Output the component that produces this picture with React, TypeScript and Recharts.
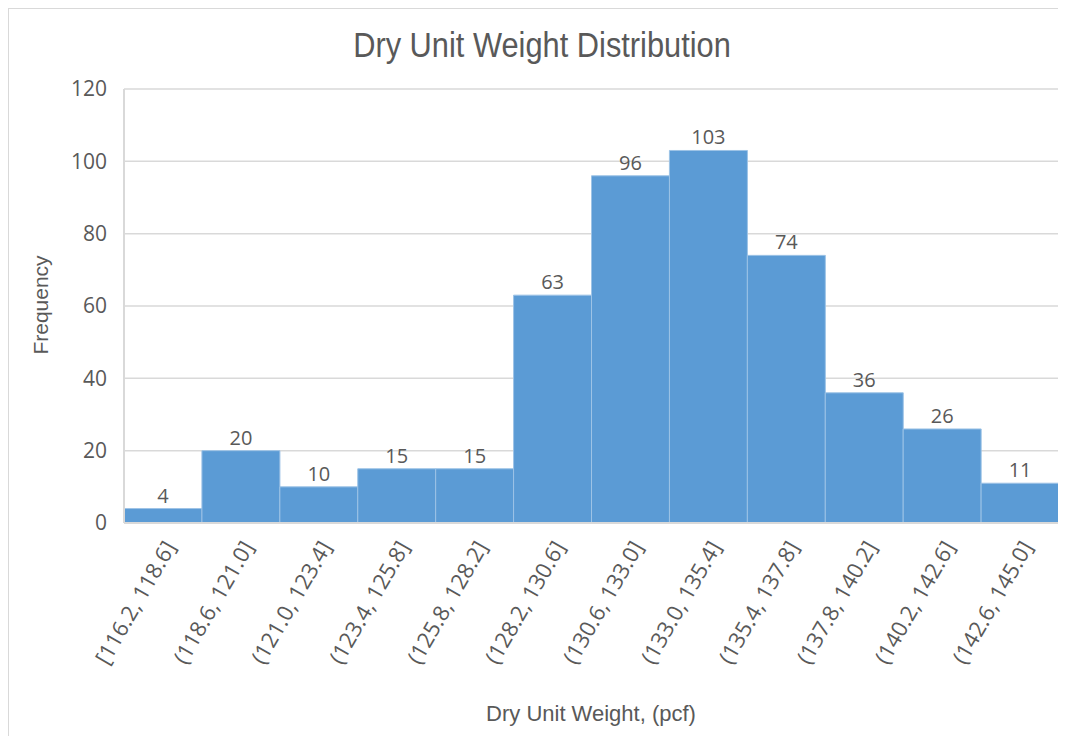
import React from "react";
import { BarChart, Bar, XAxis, YAxis, CartesianGrid, LabelList } from "recharts";

const bins = [
  "[116.2, 118.6]",
  "(118.6, 121.0]",
  "(121.0, 123.4]",
  "(123.4, 125.8]",
  "(125.8, 128.2]",
  "(128.2, 130.6]",
  "(130.6, 133.0]",
  "(133.0, 135.4]",
  "(135.4, 137.8]",
  "(137.8, 140.2]",
  "(140.2, 142.6]",
  "(142.6, 145.0]",
];
const frequency = [4, 20, 10, 15, 15, 63, 96, 103, 74, 36, 26, 11];
const yTicks = [0, 20, 40, 60, 80, 100, 120];

const data = bins.map((bin, i) => ({ bin, count: frequency[i] }));

const TEXT = "#595959";
const FONT = "'Open Sans', 'Noto Sans', sans-serif";
const ARIAL = "'Liberation Sans', Arial, sans-serif";

function BinTick(props: any) {
  const { x, y, payload } = props;
  return (
    <g transform={`translate(${x + 7},${y + 12})`}>
      <text
        transform="rotate(-60)"
        textAnchor="end"
        dy="0.35em"
        fill={TEXT}
        fontSize={22}
        fontFamily={FONT}
      >
        {payload.value}
      </text>
    </g>
  );
}

export default function App() {
  return (
    <div
      style={{
        position: "relative",
        width: 1058,
        height: 728,
        borderTop: "1px solid #d9d9d9",
        borderLeft: "1px solid #d9d9d9",
        boxSizing: "border-box",
        background: "#fff",
      }}
    >
      <div
        style={{
          position: "absolute",
          top: 16,
          left: 0,
          width: 1066,
          textAlign: "center",
          fontFamily: ARIAL,
          fontSize: 35,
          color: TEXT,
          transform: "scaleX(0.88)",
        }}
      >
        Dry Unit Weight Distribution
      </div>
      <div
        style={{
          position: "absolute",
          left: 32 - 60,
          top: 297 - 13,
          width: 120,
          textAlign: "center",
          transform: "rotate(-90deg)",
          fontFamily: ARIAL,
          fontSize: 21,
          color: TEXT,
        }}
      >
        Frequency
      </div>
      <div
        style={{
          position: "absolute",
          top: 692,
          left: 382,
          width: 400,
          textAlign: "center",
          fontFamily: ARIAL,
          fontSize: 22,
          color: TEXT,
        }}
      >
        Dry Unit Weight, (pcf)
      </div>
      <BarChart
        width={1058}
        height={727}
        data={data}
        margin={{ top: 80, right: 8, left: 0, bottom: 40 }}
        barCategoryGap={0}
        style={{ position: "absolute", top: 0, left: 0 }}
      >
        <CartesianGrid vertical={false} stroke="#d9d9d9" strokeWidth={1.5} />
        <XAxis
          dataKey="bin"
          interval={0}
          height={173}
          tick={<BinTick />}
          tickLine={false}
          axisLine={{ stroke: "#d9d9d9", strokeWidth: 2 }}
        />
        <YAxis
          domain={[0, 120]}
          ticks={yTicks}
          width={115}
          tickLine={false}
          tickMargin={11}
          axisLine={{ stroke: "#d9d9d9", strokeWidth: 2 }}
          tick={{ fill: TEXT, fontSize: 21, fontFamily: FONT }}
        />
        <Bar
          dataKey="count"
          fill="#5b9bd5"
          stroke="#9dc3e6"
          strokeWidth={1}
          isAnimationActive={false}
        >
          <LabelList
            dataKey="count"
            position="top"
            offset={6}
            fill={TEXT}
            fontSize={20}
            fontFamily={FONT}
          />
        </Bar>
      </BarChart>
    </div>
  );
}
